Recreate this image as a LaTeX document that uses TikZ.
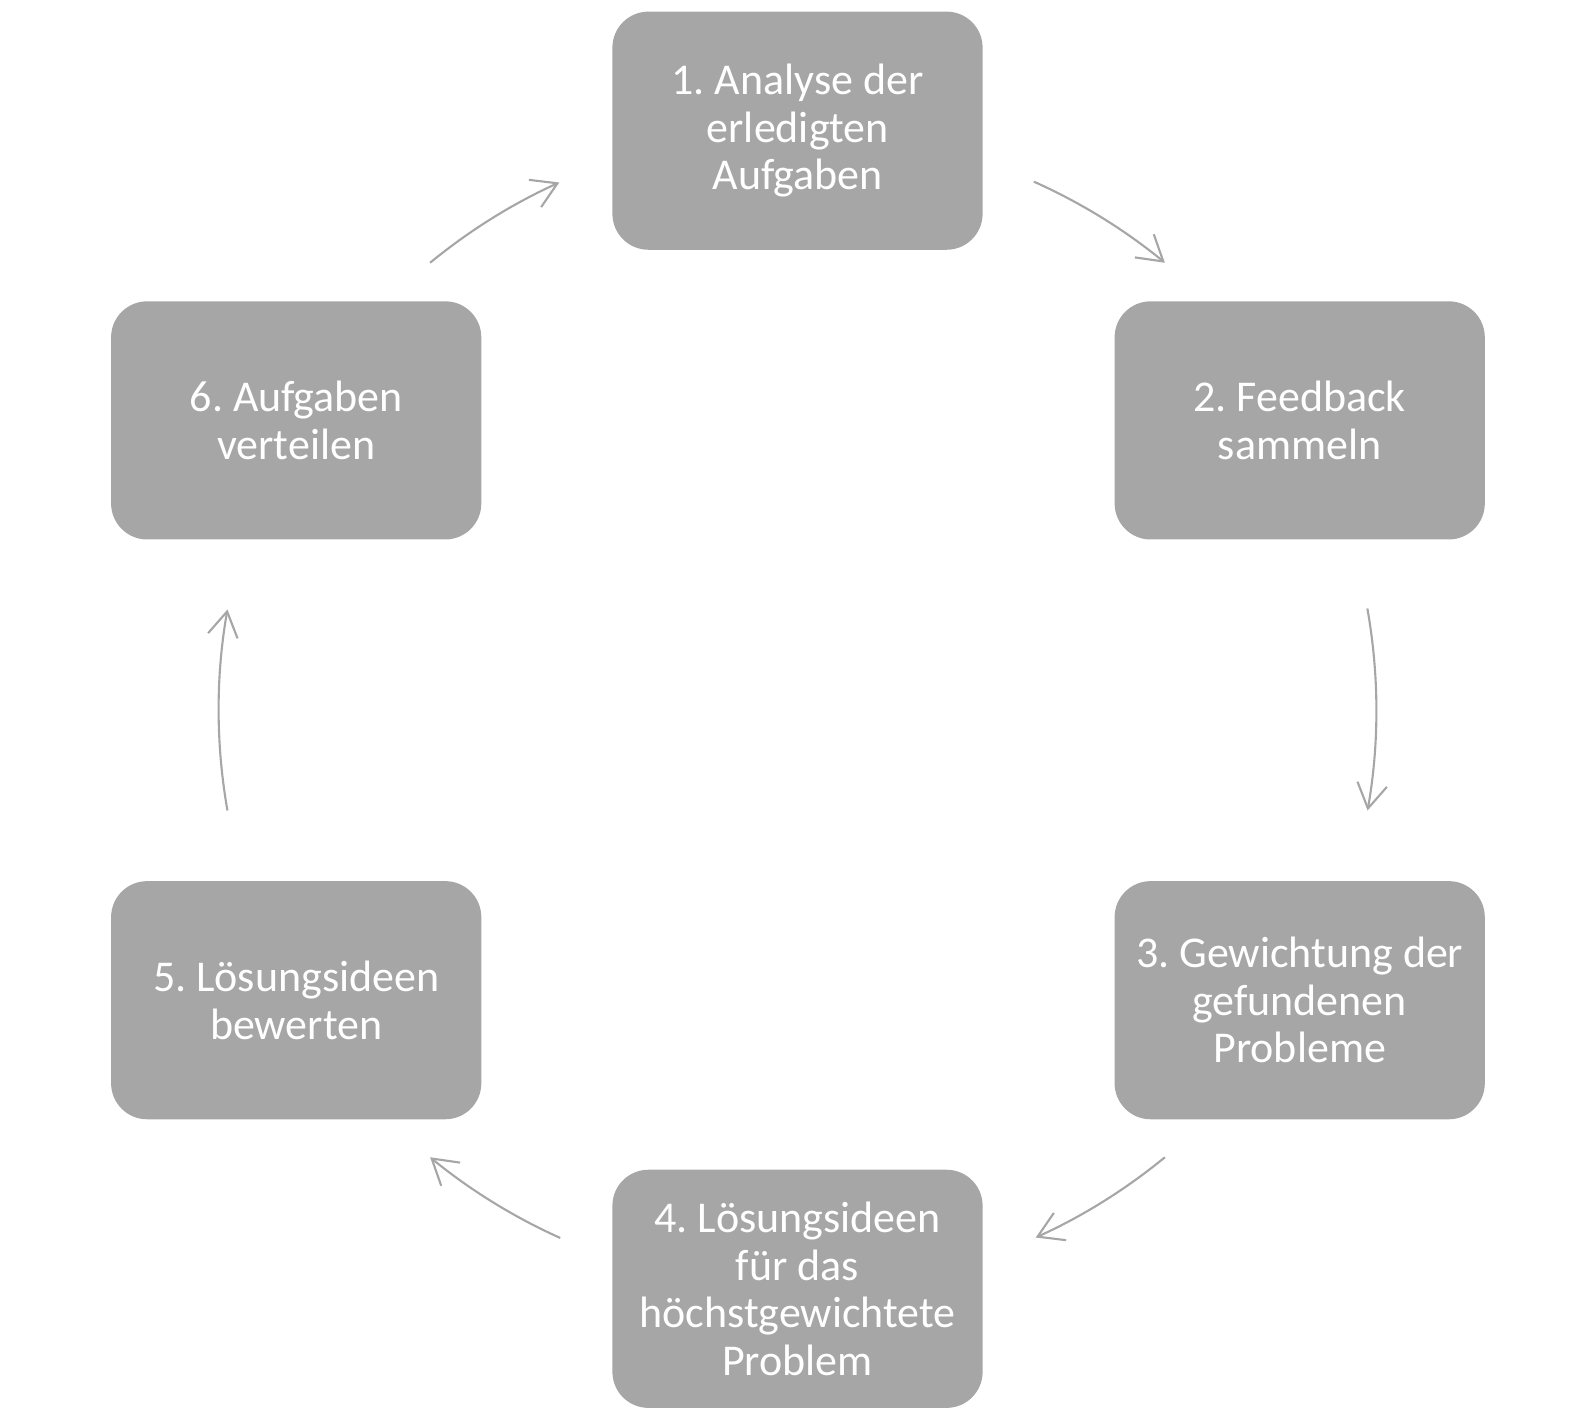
\documentclass[tikz,border=0pt]{standalone}
\usepackage{fontspec}
\setmainfont{Carlito}
\frenchspacing
\usetikzlibrary{arrows.meta}
\definecolor{boxgray}{HTML}{A6A6A6}

\begin{document}
\begin{tikzpicture}[x=0.01cm, y=0.01cm,
        stepbox/.style={fill=boxgray, rounded corners=0.36cm, minimum width=3.70cm, minimum height=2.38cm,
            text=white, align=center, font=\fontsize{12.5}{13.5}\selectfont},
        cyclearrow/.style={draw=boxgray, line width=0.6pt, -{Straight Barb[length=7pt, width=8.5pt]}}]
        \useasboundingbox (0, 0) rectangle (1576, 1420);
        \coordinate (ctr) at (797.5, 710);

        \node[stepbox] (analyse) at (797.5, 1289.3) {1. Analyse der\\erledigten\\Aufgaben};
        \node[stepbox] (feedback) at (1299.7, 999.6) {2. Feedback\\sammeln};
        \node[stepbox] (gewichtung) at (1299.7, 419.8) {3. Gewichtung der\\gefundenen\\Probleme};
        \node[stepbox] (ideen) at (797.5, 131.2) {4. Lösungsideen\\für das\\höchstgewichtete\\Problem};
        \node[stepbox] (bewerten) at (296.2, 419.8) {5. Lösungsideen\\bewerten};
        \node[stepbox] (verteilen) at (296.2, 999.6) {6. Aufgaben\\verteilen};

        \begin{scope}[cyclearrow]
            \draw ([shift={(65.9:5.785cm)}]ctr) arc[start angle=65.9, end angle=50.6, radius=5.785cm];
            \draw ([shift={(10.1:5.785cm)}]ctr) arc[start angle=10.1, end angle=-10, radius=5.785cm];
            \draw ([shift={(-50.6:5.785cm)}]ctr) arc[start angle=-50.6, end angle=-65.7, radius=5.785cm];
            \draw ([shift={(-114.2:5.785cm)}]ctr) arc[start angle=-114.2, end angle=-129.4, radius=5.785cm];
            \draw ([shift={(190:5.785cm)}]ctr) arc[start angle=190, end angle=170, radius=5.785cm];
            \draw ([shift={(129.4:5.785cm)}]ctr) arc[start angle=129.4, end angle=114.3, radius=5.785cm];
        \end{scope}
\end{tikzpicture}
\end{document}
